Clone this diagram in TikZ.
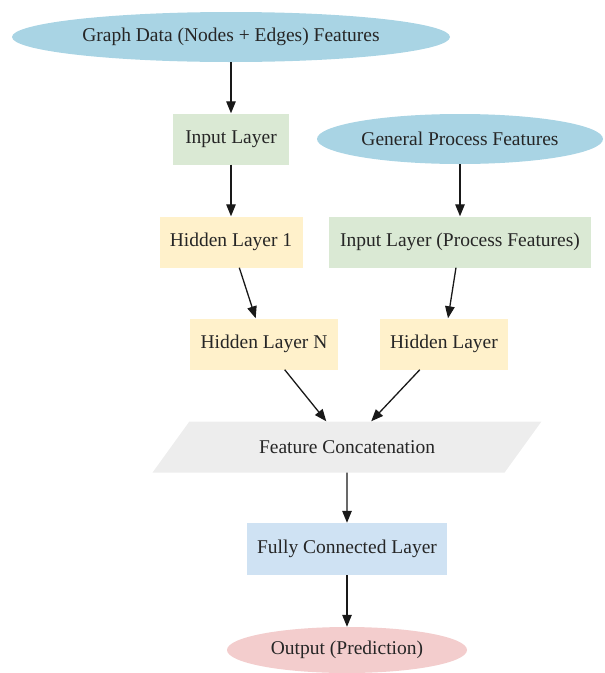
\documentclass[tikz,border=0pt]{standalone}
\usepackage{fontspec}
\setmainfont{Liberation Serif}
\usepackage{tikz}
\usetikzlibrary{shapes.geometric, arrows.meta, positioning}
\definecolor{featblue}{HTML}{A9D4E4}
\definecolor{layergreen}{HTML}{DAE9D4}
\definecolor{hiddenyellow}{HTML}{FFF1CB}
\definecolor{concatgrey}{HTML}{EDEDED}
\definecolor{fcblue}{HTML}{CFE2F3}
\definecolor{outpink}{HTML}{F3CDCD}
\tikzset{
  feature_in/.style={ellipse, fill=featblue, inner sep=0pt, minimum height=50pt},
  input_layer/.style={rectangle, fill=layergreen, inner sep=0pt, minimum height=51pt},
  hidden_layer/.style={rectangle, fill=hiddenyellow, inner sep=0pt, minimum height=51pt},
  concat_block/.style={trapezium, fill=concatgrey, inner sep=0pt, trapezium left angle=32.5, trapezium right angle=147.5, trapezium stretches=true, minimum width=390pt, minimum height=51pt},
  fc_block/.style={rectangle, fill=fcblue, inner sep=0pt, minimum height=52pt},
  output_node/.style={ellipse, fill=outpink, inner sep=0pt, minimum height=46pt},
  arrow/.style={-{Triangle[length=12pt, width=9.5pt]}, line width=1.3pt, black!90},
  every node/.style={font=\fontsize{19.5}{23}\selectfont, text=black!85}
}

\begin{document}
\begin{tikzpicture}[x=1pt, y=-1pt]
  \useasboundingbox (0,0) rectangle (605,673);

  % graph branch
  \node[feature_in, minimum width=438pt](graph_data) at (231,37) {Graph Data (Nodes + Edges) Features};
  \node[input_layer, minimum width=116pt](input_graph) at (231,139) {Input Layer};
  \node[hidden_layer, minimum width=143pt](hidden_one) at (231,242) {Hidden Layer 1};
  \node[hidden_layer, minimum width=148pt](hidden_n) at (264,344) {Hidden Layer N};

  % process branch
  \node[feature_in, minimum width=286pt](process_data) at (460,139) {General Process Features};
  \node[input_layer, minimum width=262pt](input_process) at (460,242) {Input Layer (Process Features)};
  \node[hidden_layer, minimum width=128pt](hidden_process) at (444,344) {Hidden Layer};

  % merge
  \node[concat_block](concat) at (347,447) {Feature Concatenation};
  \node[fc_block, minimum width=200pt](fully_connected) at (347,549) {Fully Connected Layer};
  \node[output_node, minimum width=240pt](output) at (347,650) {Output (Prediction)};

  \draw[arrow] (graph_data) -- (input_graph);
  \draw[arrow] (input_graph) -- (hidden_one);
  \draw[arrow] (hidden_one) -- (hidden_n);
  \draw[arrow] (process_data) -- (input_process);
  \draw[arrow] (input_process) -- (hidden_process);
  \draw[arrow] (hidden_n) -- (concat);
  \draw[arrow] (hidden_process) -- (concat);
  \draw[arrow] (concat) -- (fully_connected);
  \draw[arrow] (fully_connected) -- (output);
\end{tikzpicture}
\end{document}
